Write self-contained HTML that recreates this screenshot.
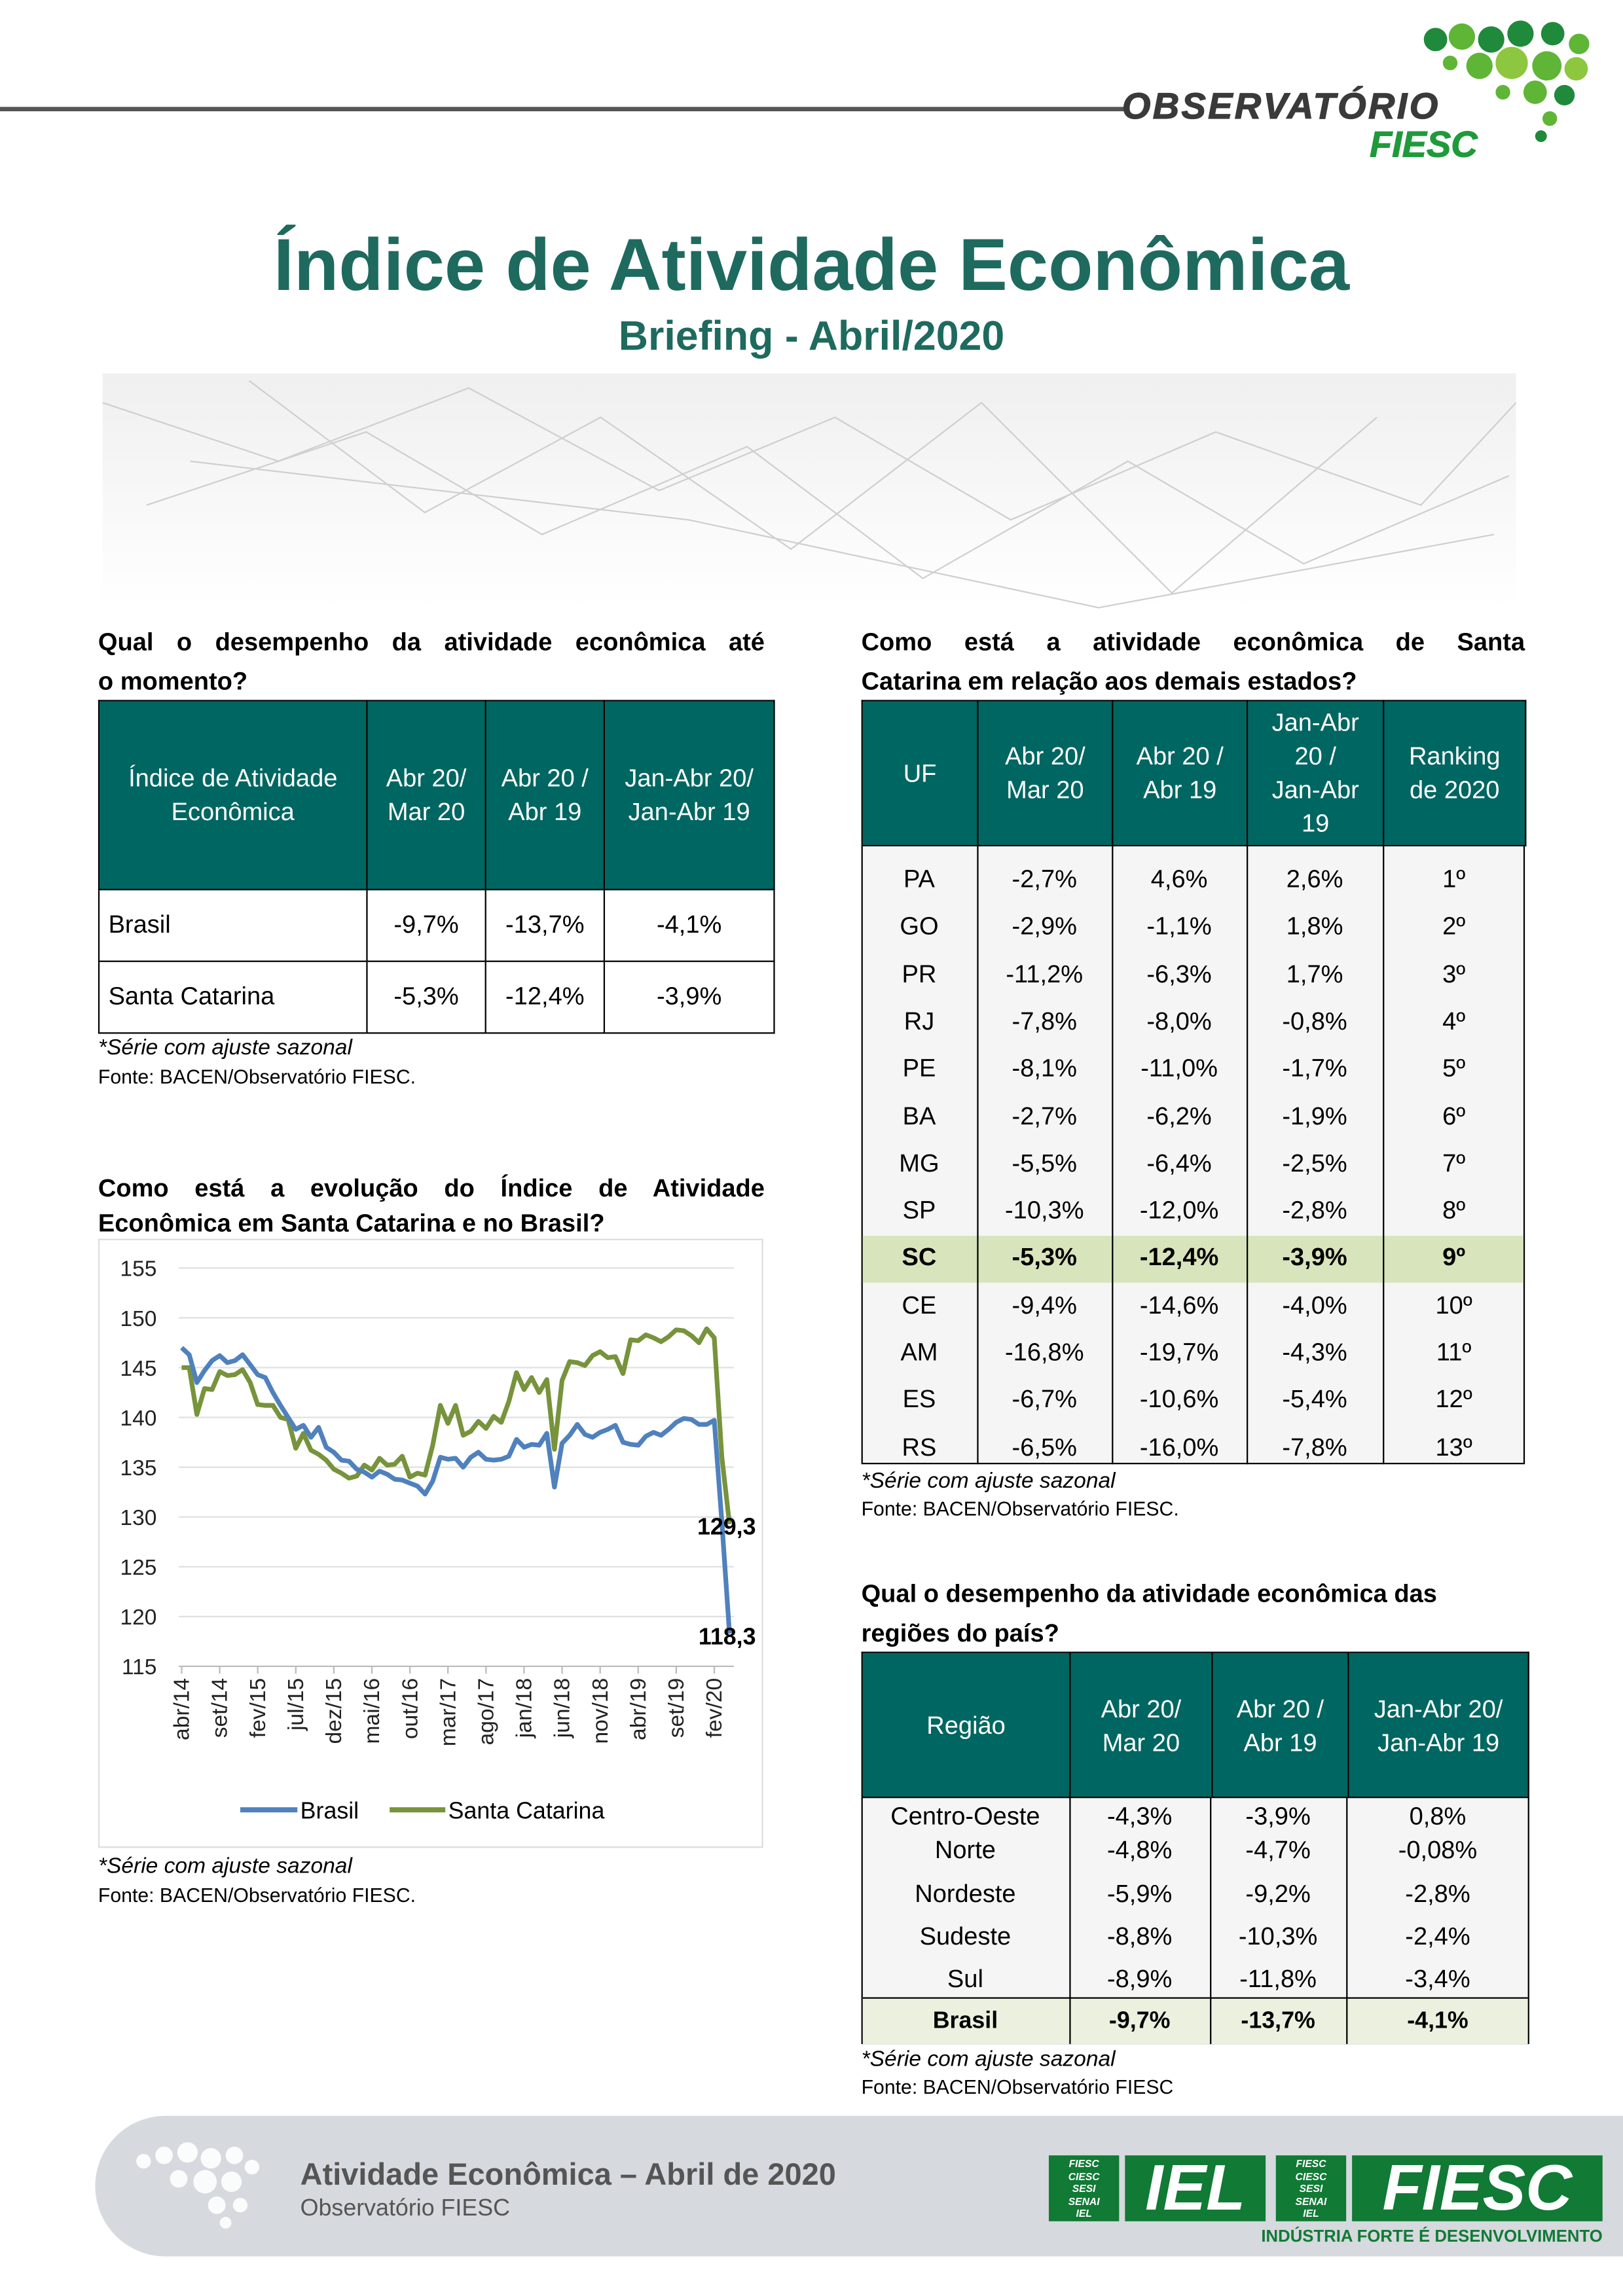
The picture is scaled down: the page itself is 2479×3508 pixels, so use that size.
<!DOCTYPE html>
<html><head><meta charset="utf-8">
<style>
html,body{margin:0;padding:0;background:#fff;width:2479px;height:3508px;overflow:hidden}
#w{position:absolute;left:0;top:0;width:1108px;height:1568px;transform:scale(2.2374,2.2372);transform-origin:0 0;font-family:"Liberation Sans",sans-serif;color:#000}
.a{position:absolute;white-space:nowrap}
.h{font-weight:bold;font-size:17px;line-height:27px}
.j{text-align:justify;text-align-last:justify}
table{position:absolute;border-collapse:collapse;font-size:17px}
td{border:1px solid #000;text-align:center;padding:0}
.th td{background:#006661;color:#fff;font-size:17px;line-height:23px}
.note{font-style:italic;font-size:15px}
.src{font-size:13.5px}
</style></head><body><div id="w">

<div class="a" style="left:0;top:73px;width:768px;height:3px;background:#555"></div>
<svg class="a" style="left:960px;top:5px" width="135" height="95">
<g fill="#5fb536">
<circle cx="20" cy="22" r="8" fill="#1f8a3b"/><circle cx="38" cy="20" r="9"/><circle cx="58" cy="22" r="9" fill="#1f8a3b"/><circle cx="78" cy="18" r="9" fill="#1f8a3b"/><circle cx="100" cy="18" r="8" fill="#1f8a3b"/><circle cx="118" cy="25" r="7"/>
<circle cx="30" cy="38" r="5"/><circle cx="50" cy="40" r="9"/><circle cx="72" cy="38" r="11" fill="#8dc63f"/><circle cx="96" cy="40" r="10"/><circle cx="116" cy="42" r="8" fill="#8dc63f"/>
<circle cx="88" cy="58" r="8"/><circle cx="108" cy="60" r="7" fill="#1f8a3b"/><circle cx="98" cy="76" r="5"/><circle cx="92" cy="88" r="4" fill="#1f8a3b"/><circle cx="66" cy="58" r="5"/></g></svg>
<div class="a" style="left:766px;top:59px;font-size:25px;font-weight:900;font-style:italic;color:#3a3a3a;letter-spacing:1.5px;-webkit-text-stroke:0.6px #3a3a3a">OBSERVATÓRIO</div>
<div class="a" style="left:935px;top:85px;font-size:25px;font-weight:bold;font-style:italic;color:#1f9a3b;-webkit-text-stroke:0.5px #1f9a3b">FIESC</div>

<div class="a" style="left:0;width:1108px;text-align:center;top:152px;font-size:50px;font-weight:bold;color:#1e6a5e">Índice de Atividade Econômica</div>
<div class="a" style="left:0;width:1108px;text-align:center;top:214px;font-size:28px;font-weight:bold;color:#1e6a5e">Briefing - Abril/2020</div>

<svg class="a" style="left:70px;top:255px" width="965" height="165">
<defs><linearGradient id="g" x1="0" y1="0" x2="0" y2="1"><stop offset="0" stop-color="#e8e8e8"/><stop offset="1" stop-color="#fff"/></linearGradient></defs>
<rect width="965" height="165" fill="url(#g)" opacity="0.7"/>
<g stroke="#cfcfcf" stroke-width="1" fill="none">
<path d="M0 20 L120 60 L250 10 L380 80 L500 30 L620 100 L760 40 L900 90 L965 20"/>
<path d="M30 90 L180 40 L300 110 L440 50 L560 140 L700 60 L820 130 L960 70"/>
<path d="M100 5 L220 95 L340 30 L470 120 L600 20 L730 150 L870 30"/>
<path d="M60 60 L400 100 L680 160 L950 110"/>
</g></svg>

<div class="a h j" style="left:67px;top:425px;width:455px">Qual o desempenho da atividade econômica até</div>
<div class="a h" style="left:67px;top:452px">o momento?</div>
<table style="left:67px;top:478px;width:462px">
<tr class="th" style="height:129px"><td style="width:182px">Índice de Atividade<br>Econômica</td><td style="width:80px">Abr 20/<br>Mar 20</td><td style="width:80px">Abr 20 /<br>Abr 19</td><td>Jan-Abr 20/<br>Jan-Abr 19</td></tr>
<tr style="height:49px"><td style="text-align:left;padding-left:6px">Brasil</td><td>-9,7%</td><td>-13,7%</td><td>-4,1%</td></tr>
<tr style="height:49px"><td style="text-align:left;padding-left:6px">Santa Catarina</td><td>-5,3%</td><td>-12,4%</td><td>-3,9%</td></tr>
</table>
<div class="a note" style="left:67px;top:707px">*Série com ajuste sazonal</div>
<div class="a src" style="left:67px;top:728px">Fonte: BACEN/Observatório FIESC.</div>

<div class="a h j" style="left:67px;top:800px;width:455px;line-height:24px">Como está a evolução do Índice de Atividade</div>
<div class="a h" style="left:67px;top:824px;line-height:24px">Econômica em Santa Catarina e no Brasil?</div>
<div class="a" style="left:67px;top:846px;width:454px;height:416px;border:1px solid #ddd;box-sizing:border-box"></div>
<svg class="a" id="ch" style="left:0;top:0" width="1108" height="1300" font-family="Liberation Sans, sans-serif"></svg>
<div class="a note" style="left:67px;top:1266px">*Série com ajuste sazonal</div>
<div class="a src" style="left:67px;top:1287px">Fonte: BACEN/Observatório FIESC.</div>

<div class="a h j" style="left:588px;top:425px;width:453px">Como está a atividade econômica de Santa</div>
<div class="a h" style="left:588px;top:452px">Catarina em relação aos demais estados?</div>
<table style="left:588px;top:478px;width:454px;background:#f5f5f5">
<tr class="th" style="height:99px"><td style="width:78px">UF</td><td style="width:91px">Abr 20/<br>Mar 20</td><td style="width:91px">Abr 20 /<br>Abr 19</td><td style="width:92px">Jan-Abr<br>20 /<br>Jan-Abr<br>19</td><td>Ranking<br>de 2020</td></tr>
</table>
<div id="t2"></div>
<div class="a note" style="left:588px;top:1003px">*Série com ajuste sazonal</div>
<div class="a src" style="left:588px;top:1023px">Fonte: BACEN/Observatório FIESC.</div>

<div class="a h" style="left:588px;top:1075px">Qual o desempenho da atividade econômica das</div>
<div class="a h" style="left:588px;top:1102px">regiões do país?</div>
<table style="left:588px;top:1128px;width:456px;background:#f5f5f5">
<tr class="th" style="height:100px"><td style="width:141px">Região</td><td style="width:96px">Abr 20/<br>Mar 20</td><td style="width:92px">Abr 20 /<br>Abr 19</td><td>Jan-Abr 20/<br>Jan-Abr 19</td></tr>
</table>
<div id="t3"></div>
<div class="a note" style="left:588px;top:1398px">*Série com ajuste sazonal</div>
<div class="a src" style="left:588px;top:1418px">Fonte: BACEN/Observatório FIESC</div>

<div class="a" style="left:65px;top:1445px;width:1100px;height:96px;background:#d6d9de;border-radius:48px 0 0 48px"></div>
<svg class="a" style="left:88px;top:1458px" width="95" height="70"><g fill="#fff" opacity="0.9">
<circle cx="10" cy="18" r="5"/><circle cx="24" cy="14" r="6"/><circle cx="40" cy="12" r="7"/><circle cx="56" cy="16" r="7"/><circle cx="72" cy="14" r="6"/><circle cx="84" cy="22" r="5"/><circle cx="34" cy="30" r="6"/><circle cx="52" cy="32" r="8"/><circle cx="70" cy="32" r="7"/><circle cx="60" cy="48" r="6"/><circle cx="76" cy="48" r="5"/><circle cx="66" cy="60" r="4"/></g></svg>
<div class="a" style="left:205px;top:1474px;font-size:21px;font-weight:bold;color:#555">Atividade Econômica – Abril de 2020</div>
<div class="a" style="left:205px;top:1500px;font-size:16px;color:#555">Observatório FIESC</div>
<div class="a" style="left:716px;top:1472px;width:48px;height:45px;background:#117a35;color:#fff;font-size:7px;font-weight:bold;font-style:italic;text-align:center;line-height:8.5px;padding-top:3px;box-sizing:border-box">FIESC<br>CIESC<br>SESI<br>SENAI<br>IEL</div>
<div class="a" style="left:768px;top:1472px;width:96px;height:45px;background:#117a35;color:#fff;font-size:44px;font-weight:bold;font-style:italic;text-align:center;line-height:45px">IEL</div>
<div class="a" style="left:871px;top:1472px;width:48px;height:45px;background:#117a35;color:#fff;font-size:7px;font-weight:bold;font-style:italic;text-align:center;line-height:8.5px;padding-top:3px;box-sizing:border-box">FIESC<br>CIESC<br>SESI<br>SENAI<br>IEL</div>
<div class="a" style="left:923px;top:1472px;width:171px;height:45px;background:#117a35;color:#fff;font-size:44px;font-weight:bold;font-style:italic;text-align:center;line-height:45px">FIESC</div>
<div class="a" style="left:861px;top:1522px;font-size:11.5px;font-weight:bold;color:#117a35">INDÚSTRIA FORTE É DESENVOLVIMENTO</div>

</div>
<script>
var rows=[["PA","-2,7%","4,6%","2,6%","1º"],["GO","-2,9%","-1,1%","1,8%","2º"],["PR","-11,2%","-6,3%","1,7%","3º"],["RJ","-7,8%","-8,0%","-0,8%","4º"],["PE","-8,1%","-11,0%","-1,7%","5º"],["BA","-2,7%","-6,2%","-1,9%","6º"],["MG","-5,5%","-6,4%","-2,5%","7º"],["SP","-10,3%","-12,0%","-2,8%","8º"],["SC","-5,3%","-12,4%","-3,9%","9º"],["CE","-9,4%","-14,6%","-4,0%","10º"],["AM","-16,8%","-19,7%","-4,3%","11º"],["ES","-6,7%","-10,6%","-5,4%","12º"],["RS","-6,5%","-16,0%","-7,8%","13º"]];
var cx=[588,667,759,851,944,1041],h='';
h+='<div class="a" style="left:588px;top:577px;width:453px;height:423px;background:#f5f5f5;border:1px solid #000;box-sizing:border-box"></div>';
h+='<div class="a" style="left:589px;top:844px;width:451px;height:32px;background:#d8e4bc"></div>';
for(var i=1;i<5;i++)h+='<div class="a" style="left:'+cx[i]+'px;top:577px;width:1px;height:423px;background:#000"></div>';
rows.forEach(function(r,k){var y=591+k*32.3;var b=r[0]=="SC"?'font-weight:bold;':'';
for(var j=0;j<5;j++)h+='<div class="a" style="'+b+'left:'+cx[j]+'px;width:'+(cx[j+1]-cx[j])+'px;text-align:center;top:'+y+'px;font-size:17px">'+r[j]+'</div>';});
document.getElementById('t2').innerHTML=h;

var c3=[588,730,826,919,1044],r3=[["Centro-Oeste","-4,3%","-3,9%","0,8%",1231],["Norte","-4,8%","-4,7%","-0,08%",1254],["Nordeste","-5,9%","-9,2%","-2,8%",1284],["Sudeste","-8,8%","-10,3%","-2,4%",1313],["Sul","-8,9%","-11,8%","-3,4%",1342]];
h='<div class="a" style="left:588px;top:1227px;width:456px;height:169px;background:#f5f5f5;border:1px solid #000;box-sizing:border-box"></div>';
h+='<div class="a" style="left:589px;top:1364px;width:454px;height:31px;background:#ebf1de;border-top:1px solid #000"></div>';
for(var i=1;i<4;i++)h+='<div class="a" style="left:'+c3[i]+'px;top:1227px;width:1px;height:169px;background:#000"></div>';
r3.push(["Brasil","-9,7%","-13,7%","-4,1%",1372]);
r3.forEach(function(r,k){var b=k==5?'font-weight:bold;font-size:16px;':'font-size:17px;';
for(var j=0;j<4;j++)h+='<div class="a" style="'+b+'left:'+c3[j]+'px;width:'+(c3[j+1]-c3[j])+'px;text-align:center;top:'+r[4]+'px">'+r[j]+'</div>';});
document.getElementById('t3').innerHTML=h;

var B=[147,146.3,143.5,144.7,145.7,146.2,145.5,145.7,146.3,145.3,144.3,144,142.5,141.2,140,138.8,139.2,138,139,137,136.5,135.7,135.6,134.8,134.5,134,134.6,134.3,133.8,133.7,133.4,133.1,132.3,133.6,136,135.8,135.9,135,136,136.5,135.8,135.7,135.8,136.1,137.8,137,137.3,137.2,138.4,133,137.4,138.2,139.3,138.3,138,138.5,138.8,139.2,137.5,137.3,137.2,138.1,138.5,138.2,138.8,139.5,139.9,139.8,139.3,139.3,139.7,129.5,118.3];
var S=[145,145,140.3,142.9,142.8,144.6,144.2,144.3,144.8,143.5,141.3,141.2,141.2,140,139.8,136.9,138.4,136.7,136.3,135.7,134.8,134.4,133.9,134.1,135.2,134.7,135.9,135.2,135.3,136.1,134,134.4,134.2,137.2,141.2,139.4,141.2,138.2,138.6,139.6,138.9,140.1,139.5,141.6,144.5,142.8,144,142.5,143.8,136.8,143.7,145.6,145.5,145.2,146.2,146.6,146,146.1,144.4,147.8,147.7,148.3,148,147.6,148.1,148.8,148.7,148.2,147.5,148.9,148,136,129.3];
function Y(v){return 866+(155-v)*6.8}
var x0=124,st=(498-124)/72,s='';
for(var v=115;v<=155;v+=5){s+='<line x1="122" x2="501" y1="'+Y(v)+'" y2="'+Y(v)+'" stroke="#e0e0e0" stroke-width="1"/>';s+='<text x="107" y="'+(Y(v)+5.5)+'" text-anchor="end" font-size="15" fill="#222">'+v+'</text>';}
s+='<line x1="122" x2="501" y1="'+Y(115)+'" y2="'+Y(115)+'" stroke="#bbb"/>';
var L=["abr/14","set/14","fev/15","jul/15","dez/15","mai/16","out/16","mar/17","ago/17","jan/18","jun/18","nov/18","abr/19","set/19","fev/20"];
for(var i=0;i<15;i++){var x=x0+i*5*st;s+='<line x1="'+x+'" x2="'+x+'" y1="'+Y(115)+'" y2="'+(Y(115)+5)+'" stroke="#bbb"/>';s+='<text transform="translate('+(x+5)+','+(Y(115)+8)+') rotate(-90)" text-anchor="end" font-size="15" fill="#222">'+L[i]+'</text>';}
function pl(a,c){var p=a.map(function(v,i){return (x0+i*st).toFixed(1)+','+Y(v).toFixed(1)}).join(' ');return '<polyline points="'+p+'" fill="none" stroke="'+c+'" stroke-width="3.2" stroke-linejoin="round"/>';}
s+=pl(S,'#77933c')+pl(B,'#4f81bd');
s+='<text x="516" y="1048" text-anchor="end" font-size="16" font-weight="bold">129,3</text><text x="516" y="1123" text-anchor="end" font-size="16" font-weight="bold">118,3</text>';
s+='<line x1="164" x2="203" y1="1236" y2="1236" stroke="#4f81bd" stroke-width="3.5"/><text x="205" y="1242" font-size="16">Brasil</text>';
s+='<line x1="266" x2="304" y1="1236" y2="1236" stroke="#77933c" stroke-width="3.5"/><text x="306" y="1242" font-size="16">Santa Catarina</text>';
document.getElementById('ch').innerHTML=s;
</script>
</body></html>
